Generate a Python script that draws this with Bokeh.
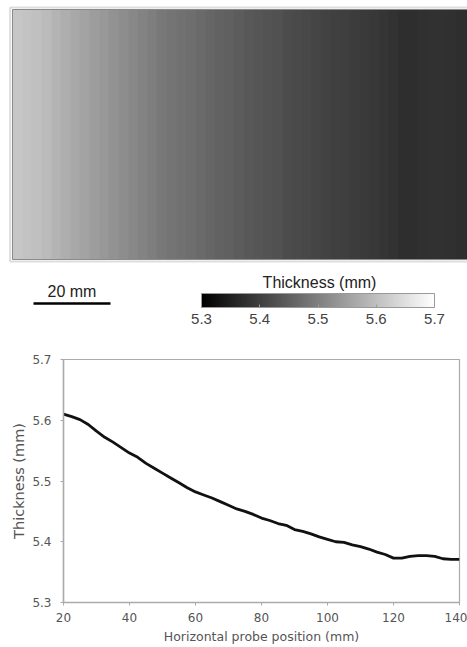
import numpy as np
from bokeh.plotting import figure
from bokeh.models import Range1d, LinearColorMapper, ColorBar, FixedTicker, Label
from bokeh.layouts import column
from bokeh.palettes import Greys256
from bokeh.embed import file_html
from bokeh.resources import INLINE

# ---------------- data ----------------
position_mm = [20, 22.5, 25, 27.5, 30, 32.5, 35, 37.5, 40, 42.5, 45, 47.5, 50,
               52.5, 55, 57.5, 60, 62.5, 65, 67.5, 70, 72.5, 75, 77.5, 80,
               82.5, 85, 87.5, 90, 92.5, 95, 97.5, 100, 102.5, 105, 107.5, 110,
               112.5, 115, 117.5, 120, 122.5, 125, 127.5, 130, 132.5, 135, 137.5, 140]
thickness_mm = [5.610, 5.606, 5.601, 5.593, 5.582, 5.572, 5.564, 5.555, 5.546,
                5.539, 5.529, 5.521, 5.513, 5.505, 5.497, 5.489, 5.482, 5.477,
                5.472, 5.466, 5.460, 5.454, 5.450, 5.445, 5.439, 5.435, 5.430,
                5.427, 5.420, 5.417, 5.413, 5.408, 5.404, 5.400, 5.399, 5.395,
                5.392, 5.388, 5.383, 5.379, 5.373, 5.373, 5.376, 5.377, 5.377,
                5.376, 5.372, 5.371, 5.371]
colorbar_ticks = [5.3, 5.4, 5.5, 5.6, 5.7]
x_ticks = [20, 40, 60, 80, 100, 120, 140]
y_ticks = [5.3, 5.4, 5.5, 5.6, 5.7]
scale_bar_mm = 20
color_low, color_high = 5.3, 5.7

# ---------------- top: thickness map, scale bar, colour bar ----------------
W = 467
TOP_H = 340
PX_PER_MM = 3.85
step = position_mm[1] - position_mm[0]
img_left_mm = position_mm[0] - step / 2
x0_mm = img_left_mm - 12 / PX_PER_MM

mapper = LinearColorMapper(palette=Greys256, low=color_low, high=color_high)

top = figure(width=W, height=TOP_H, output_backend="svg", toolbar_location=None,
             x_range=Range1d(x0_mm, x0_mm + W / PX_PER_MM),
             y_range=Range1d(TOP_H, 0), min_border=0, frame_align=False)
top.axis.visible = False
top.grid.visible = False
top.outline_line_color = None

img = np.tile(np.array(thickness_mm), (8, 1))
span_mm = step * len(position_mm)
top.quad(left=[img_left_mm - 0.6], right=[img_left_mm + span_mm], top=[7], bottom=[261],
         fill_alpha=0, line_color="#dddddd", line_width=2)
top.image(image=[img], x=img_left_mm, y=9, dw=span_mm, dh=250, color_mapper=mapper)
top.quad(left=[img_left_mm], right=[img_left_mm + span_mm], top=[9], bottom=[259],
         fill_alpha=0, line_color="#8a8a8a", line_width=1)

bar_x0 = img_left_mm + 21 / PX_PER_MM
top.segment(x0=[bar_x0], x1=[bar_x0 + scale_bar_mm], y0=[303], y1=[303],
            line_color="black", line_width=2.5)
top.add_layout(Label(x=bar_x0 + scale_bar_mm / 2, y=291, text=f"{scale_bar_mm} mm",
                     text_align="center", text_baseline="middle",
                     text_font="Liberation Sans", text_font_size="16px",
                     text_color="#222222"))

top.add_layout(Label(x=x0_mm + 319 / PX_PER_MM, y=282, text="Thickness (mm)",
                     text_align="center", text_baseline="middle",
                     text_font="Liberation Sans", text_font_size="16px",
                     text_color="#222222"))

cb = ColorBar(color_mapper=mapper, orientation="horizontal", width=233, height=14,
              location=(201, 14), padding=0, title=None,
              ticker=FixedTicker(ticks=colorbar_ticks),
              major_label_text_font="Liberation Sans",
              major_label_text_font_size="15px",
              major_label_text_color="#444444",
              label_standoff=6,
              major_tick_line_color="#9a9a9a", major_tick_in=3, major_tick_out=0,
              minor_tick_line_color=None,
              bar_line_color="#999999",
              background_fill_alpha=0, border_line_color=None)
top.add_layout(cb, "center")

# ---------------- bottom: line profile ----------------
bot = figure(width=W, height=647 - TOP_H, output_backend="svg", toolbar_location=None,
             x_range=Range1d(20, 140), y_range=Range1d(5.3, 5.7),
             min_border_left=63, min_border_right=8, min_border_top=19,
             min_border_bottom=45, frame_align=False)
bot.line(position_mm, thickness_mm, line_color="#111111", line_width=2.8)

bot.grid.visible = False
bot.outline_line_color = "#aaaaaa"
bot.outline_line_width = 1.2
bot.xaxis.ticker = FixedTicker(ticks=x_ticks)
bot.yaxis.ticker = FixedTicker(ticks=y_ticks)
for ax in (bot.xaxis[0], bot.yaxis[0]):
    ax.axis_line_color = "#aaaaaa"
    ax.axis_line_width = 1.5
    ax.major_tick_line_color = "#aaaaaa"
    ax.major_tick_out = 3
    ax.major_tick_in = 0
    ax.minor_tick_line_color = None
    ax.major_label_text_font = "DejaVu Sans"
    ax.major_label_text_font_size = "12px"
    ax.major_label_text_color = "#555555"
    ax.axis_label_text_font = "DejaVu Sans"
    ax.axis_label_text_font_style = "normal"
    ax.axis_label_text_color = "#555555"
bot.xaxis.axis_label = "Horizontal probe position (mm)"
bot.yaxis.axis_label = "Thickness (mm)"
bot.xaxis.axis_label_text_font_size = "12.5px"
bot.yaxis.axis_label_text_font_size = "14.5px"
bot.xaxis.major_label_standoff = 7
bot.yaxis.major_label_standoff = 9
bot.xaxis.axis_label_standoff = 4
bot.yaxis.axis_label_standoff = 2

layout = column(top, bot, spacing=0)
open("out.html", "w").write(file_html(layout, INLINE))
